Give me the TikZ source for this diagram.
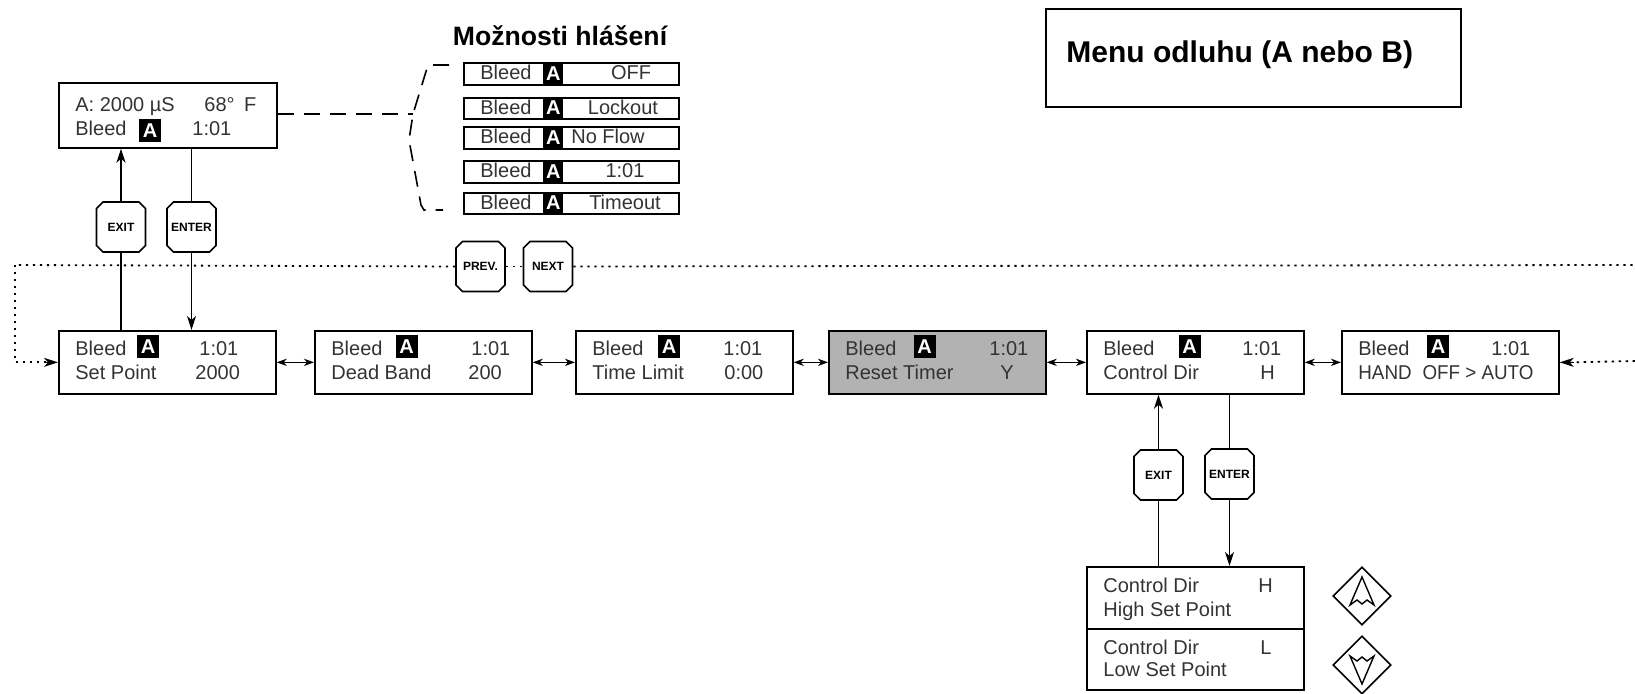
\documentclass[tikz,border=0pt]{standalone}
\usepackage{fontspec}
\setmainfont{Liberation Sans}
\usetikzlibrary{arrows.meta,shapes.misc,shapes.geometric,backgrounds,calc}
\definecolor{lcdgray}{RGB}{178,178,178}
\tikzset{
  lcd/.style={draw=black, line width=0.85pt, inner sep=0pt, anchor=north west},
  txt/.style={font=\fontsize{10}{12}\selectfont, text=black!80, inner sep=0pt, anchor=base west},
  inva/.style={fill=black, text=white, font=\fontsize{10}{12}\selectfont\bfseries, minimum width=11pt, minimum height=11.5pt, inner sep=0pt},
  invcell/.style={fill=black, text=white, font=\fontsize{10}{12}\selectfont\bfseries, inner sep=0pt, anchor=north west},
  btn/.style={chamfered rectangle, chamfered rectangle xsep=1.6pt, chamfered rectangle ysep=1.6pt, draw, line width=0.8pt, fill=white, minimum width=24.5pt, minimum height=25pt, inner sep=0pt, font=\fontsize{6}{6}\selectfont\bfseries},
  conn/.style={line width=0.75pt},
  arr/.style={-{Stealth[length=7pt,width=4.5pt,inset=2pt]}},
  dbl/.style={{Stealth[length=5pt,width=3.6pt,inset=1.5pt]}-{Stealth[length=5pt,width=3.6pt,inset=1.5pt]}},
  dotline/.style={line width=0.9pt, dash pattern=on 1.2pt off 2.3pt},
  dashline/.style={line width=0.8pt, dash pattern=on 8pt off 5pt},
  keyd/.style={diamond, draw, line width=0.8pt, minimum width=29pt, minimum height=29pt, inner sep=0pt}
}
% box from (x1,y1) to (x2,y2) in pixel units: name, x1, y1, x2, y2, style
\newcommand\pbox[6]{%
  \node[#6, minimum width={(#4-#2)*0.5pt}, minimum height={(#5-#3)*0.5pt}] (#1) at (#2,#3) {};}
% row LCD box: name, left x, A centre offset, value1 offset, value1, line2, value2 offset, value2, extra style
\newcommand\lcdrow[9]{%
  \pbox{#1}{#2}{330}{#2+217}{393}{lcd,#9}
  \node[txt] (#1b) at (#2+17,356) {Bleed};
  \node[inva] (#1a) at (#2+#3,347) {A};
  \node[txt] (#1v) at (#2+#4,356) {#5};
  \node[txt] (#1l) at (#2+17,380) {#6};
  \node[txt] (#1w) at (#2+#7,380) {#8};
}
% message option box: name, top, bottom, text, text centre x
\newcommand\optbox[5]{%
  \pbox{#1}{463}{#2}{678}{#3}{lcd}
  \node[invcell, minimum width=10pt, minimum height={(#3-#2)*0.5pt}] (#1a) at (543,#2) {A};
  \node[txt] (#1b) at (480,{(#2+#3)/2+7}) {Bleed};
  \node[txt,anchor=base] (#1v) at (#5,{(#2+#3)/2+7}) {#4};
}
\begin{document}
\begin{tikzpicture}[x=0.5pt,y=-0.5pt]
\useasboundingbox (0,0) rectangle (1635,694);

% title
\pbox{title}{1045}{8}{1460}{106}{lcd}
\node[anchor=base west, inner sep=0pt, font=\fontsize{15}{18}\selectfont\bfseries] (titletext) at (1066,63) {Menu odluhu (A nebo B)};

% message options
\node[anchor=base, inner sep=0pt, font=\fontsize{13.3}{15}\selectfont\bfseries] (opthead) at (560,46) {Možnosti hlášení};
\optbox{o1}{62}{84}{OFF}{631}
\optbox{o2}{97}{118}{Lockout}{623}
\optbox{o3}{126}{148}{No Flow}{608}
\optbox{o4}{160}{182}{1:01}{625}
\optbox{o5}{192}{213}{Timeout}{625}

% status display
\pbox{st}{58}{82}{276}{147}{lcd}
\node[txt] (st1) at (75,112) {A: 2000 µS};
\node[txt] (st2) at (204,112) {68°\hspace{2pt} F};
\node[txt] (st3) at (75,136) {Bleed};
\node[inva] (st4) at (150,130.5) {A};
\node[txt] (st5) at (192,136) {1:01};

% dashed bracket to options
\coordinate (bv) at (413,114);
\draw[dashline] (st.east |- bv) -- (bv);
\draw[dashline] (449,65) -- (428,65) -- (bv) -- (409,140) -- (421,205) -- (424,210) -- (443,210);

% row of displays
\lcdrow{b1}{58}{90}{141}{1:01}{Set Point}{137}{2000}{}
\lcdrow{b2}{314}{92.5}{157}{1:01}{Dead Band}{154}{200}{}
\lcdrow{b3}{575}{94}{148}{1:01}{Time Limit}{149}{0:00}{}
\lcdrow{b4}{828}{96.5}{161}{1:01}{Reset Timer}{172}{Y}{fill=lcdgray}
\lcdrow{b5}{1086}{103.5}{156}{1:01}{Control Dir}{174}{H}{}
\pbox{b6}{1341}{330}{1558}{393}{lcd}
\node[txt] (b6b) at (1358,356) {Bleed};
\node[inva] (b6a) at (1438,347) {A};
\node[txt] (b6v) at (1491,356) {1:01};
\node[txt] (b6l) at (1358,380) {\scalebox{0.94}[1]{HAND\hspace{3pt} OFF > AUTO}};

\draw[conn,dbl] (b1.east) -- (b2.west);
\draw[conn,dbl] (b2.east) -- (b3.west);
\draw[conn,dbl] (b3.east) -- (b4.west);
\draw[conn,dbl] (b4.east) -- (b5.west);
\draw[conn,dbl] (b5.east) -- (b6.west);

% buttons
\node[btn] (exit1) at (121,227) {EXIT};
\node[btn] (enter1) at (191.5,227) {ENTER};
\node[btn] (prev) at (480.5,266.5) {PREV.};
\node[btn] (next) at (548,266.5) {NEXT};
\node[btn] (exit2) at (1158.5,475) {EXIT};
\node[btn] (enter2) at (1229.5,474) {ENTER};

% sub display
\pbox{sub}{1086}{566}{1303}{689}{lcd}
\coordinate (dv) at (1086,629);
\draw[line width=0.85pt] (sub.west |- dv) -- (sub.east |- dv);
\node[txt] (s1) at (1103,593) {Control Dir};
\node[txt] (s2) at (1258,593) {H};
\node[txt] (s3) at (1103,617) {High Set Point};
\node[txt] (s4) at (1103,655) {Control Dir};
\node[txt] (s5) at (1260,655) {L};
\node[txt] (s6) at (1103,677) {Low Set Point};

% up / down keys
\node[keyd] (up) at (1362,596) {};
\node[keyd] (down) at (1362,665) {};
\draw[line width=0.7pt, shift={(up.center)}] (0,-19) -- (12,9) -- (5,4) -- (0,8) -- (-5,4) -- (-12,9) -- cycle;
\draw[line width=0.7pt, shift={(down.center)}] (0,19) -- (12,-9) -- (5,-4) -- (0,-8) -- (-5,-4) -- (-12,-9) -- cycle;

% connectors behind the buttons
\begin{pgfonlayer}{background}
\draw[conn,arr] (exit1 |- b1.north) -- (exit1 |- st.south);
\draw[conn,arr] (enter1 |- st.south) -- (enter1 |- b1.north);
\draw[conn,arr] (exit2 |- sub.north) -- (exit2 |- b5.south);
\draw[conn,arr] (enter2 |- b5.south) -- (enter2 |- sub.north);
\end{pgfonlayer}

% dotted PREV/NEXT loop
\coordinate (lc) at (15,265);
\coordinate (rc) at (1635,265);
\coordinate (rr) at (1635,361);
\draw[dotline] (prev.east) -- (next.west);
\draw[dotline] (next.east) -- (rc);
\draw[dotline] (prev.west) -- (lc);
\draw[dotline] (lc) |- ($(b1.west)+(-10,0)$);
\draw[conn,arr] ($(b1.west)+(-12,0)$) -- (b1.west);
\draw[dotline] (rr) -- ($(b6.east)+(12,0)$);
\draw[conn,arr] ($(b6.east)+(14,0)$) -- (b6.east);
\end{tikzpicture}
\end{document}
